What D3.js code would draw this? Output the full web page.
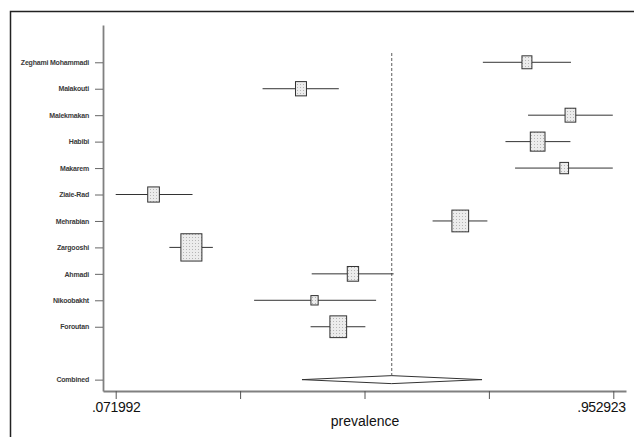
<!DOCTYPE html>
<html>
<head>
<meta charset="utf-8">
<script src="https://cdn.jsdelivr.net/npm/d3@7"></script>
<style>
  body { margin: 0; background: #fff; }
  svg { display: block; font-family: "Liberation Sans", Arial, sans-serif; }
</style>
</head>
<body>
<svg id="chart" width="634" height="437"></svg>
<script>
// study rows (row 12 left empty, combined sits on row 13)
var studies = ['Zeghami Mohammadi', 'Malakouti', 'Malekmakan', 'Habibi', 'Makarem',
    'Ziaie-Rad', 'Mehrabian', 'Zargooshi', 'Ahmadi', 'Nikoobakht', 'Foroutan'];
var estimate = [0.800, 0.400, 0.877, 0.819, 0.866, 0.139, 0.682, 0.206, 0.492, 0.424, 0.466];
var lower    = [0.722, 0.332, 0.802, 0.762, 0.779, 0.072, 0.633, 0.167, 0.419, 0.317, 0.417];
var upper    = [0.878, 0.467, 0.952, 0.877, 0.952, 0.208, 0.730, 0.244, 0.564, 0.533, 0.514];
var weight   = [5.1, 6.2, 5.9, 11.1, 3.9, 7.0, 14.4, 22.7, 6.6, 2.7, 14.4];

var combined = { label: 'Combined', est: 0.5606, lo: 0.4018, hi: 0.7205 };

var xTicks = [0.071992, 0.2922248, 0.5124575, 0.7326903, 0.952923];
var xTickLabels = ['.071992', '', '', '', '.952923'];
var xTitle = 'prevalence';

var svg = d3.select('#chart');

// outer frame
svg.append('path')
    .attr('d', 'M10.5,437 V11.5 H634')
    .attr('fill', 'none')
    .attr('stroke', '#222')
    .attr('stroke-width', 1.5);

// stippled box fill
var pat = svg.append('defs').append('pattern')
    .attr('id', 'dots')
    .attr('patternUnits', 'userSpaceOnUse')
    .attr('width', 3).attr('height', 3);
pat.append('rect').attr('width', 3).attr('height', 3).attr('fill', '#ececec');
pat.append('rect').attr('width', 1).attr('height', 1).attr('fill', '#b5b5b5');

var x = d3.scaleLinear().domain([0.04951, 0.97540]).range([103, 626]);
var y = d3.scaleLinear().domain([-0.41, 13.43]).range([25, 391]);

var rows = studies.map(function (name, i) {
    return { name: name, row: i + 1, est: estimate[i], lo: lower[i], hi: upper[i], w: weight[i] };
});

var boxSize = d3.scaleSqrt().domain([0, d3.max(weight)]).range([0, 21]);

// y axis
var yAxis = svg.append('g')
    .attr('transform', 'translate(103,0)')
    .call(d3.axisLeft(y)
        .tickValues(rows.map(function (d) { return d.row; }).concat([13]))
        .tickFormat(function (v) { return v === 13 ? combined.label : studies[v - 1]; })
        .tickSize(8)
        .tickSizeOuter(0)
        .tickPadding(6));
yAxis.select('.domain').attr('stroke', '#808080').attr('stroke-width', 1.8);
yAxis.selectAll('.tick line').attr('stroke', '#666');
yAxis.selectAll('.tick text')
    .attr('fill', '#3a3a3a')
    .attr('font-size', 7)
    .attr('letter-spacing', -0.2)
    .attr('font-weight', 'bold');

// x axis
var xAxis = svg.append('g')
    .attr('transform', 'translate(0,391)')
    .call(d3.axisBottom(x)
        .tickValues(xTicks)
        .tickFormat(function (v, i) { return xTickLabels[i]; })
        .tickSize(8)
        .tickSizeOuter(0)
        .tickPadding(3));
xAxis.select('.domain').attr('stroke', '#808080').attr('stroke-width', 1.8);
xAxis.selectAll('.tick line').attr('stroke', '#555');
xAxis.selectAll('.tick text')
    .attr('fill', '#111')
    .attr('font-size', 14)
    .attr('letter-spacing', -0.3);
// last label sits flush with the end of the axis
xAxis.selectAll('.tick text')
    .filter(function (d, i) { return i === xTicks.length - 1; })
    .attr('text-anchor', 'end')
    .attr('dx', 12);

svg.append('text')
    .attr('x', 365)
    .attr('y', 426)
    .attr('text-anchor', 'middle')
    .attr('font-size', 14)
    .attr('fill', '#111')
    .text(xTitle);

// pooled estimate reference line
svg.append('line')
    .attr('x1', x(combined.est)).attr('x2', x(combined.est))
    .attr('y1', 53).attr('y2', y(13) - 4)
    .attr('stroke', '#777')
    .attr('stroke-width', 1.2)
    .attr('stroke-dasharray', '3,2');

// confidence intervals
svg.selectAll('.ci')
    .data(rows)
    .enter().append('line')
    .attr('class', 'ci')
    .attr('x1', function (d) { return x(d.lo); })
    .attr('x2', function (d) { return x(d.hi); })
    .attr('y1', function (d) { return y(d.row); })
    .attr('y2', function (d) { return y(d.row); })
    .attr('stroke', '#333')
    .attr('stroke-width', 1);

// weight boxes (picture is stretched a bit vertically)
svg.selectAll('.box')
    .data(rows)
    .enter().append('rect')
    .attr('class', 'box')
    .attr('x', function (d) { return x(d.est) - boxSize(d.w) / 2; })
    .attr('y', function (d) { return y(d.row) - boxSize(d.w) * 1.3 / 2; })
    .attr('width', function (d) { return boxSize(d.w); })
    .attr('height', function (d) { return boxSize(d.w) * 1.3; })
    .attr('fill', 'url(#dots)')
    .attr('stroke', '#333')
    .attr('stroke-width', 1);

// combined diamond
var cy = y(13);
svg.append('path')
    .attr('d', 'M' + x(combined.lo) + ',' + cy +
        'L' + x(combined.est) + ',' + (cy - 4) +
        'L' + x(combined.hi) + ',' + cy +
        'L' + x(combined.est) + ',' + (cy + 4) + 'Z')
    .attr('fill', '#fff')
    .attr('stroke', '#333')
    .attr('stroke-width', 1);
</script>
</body>
</html>
